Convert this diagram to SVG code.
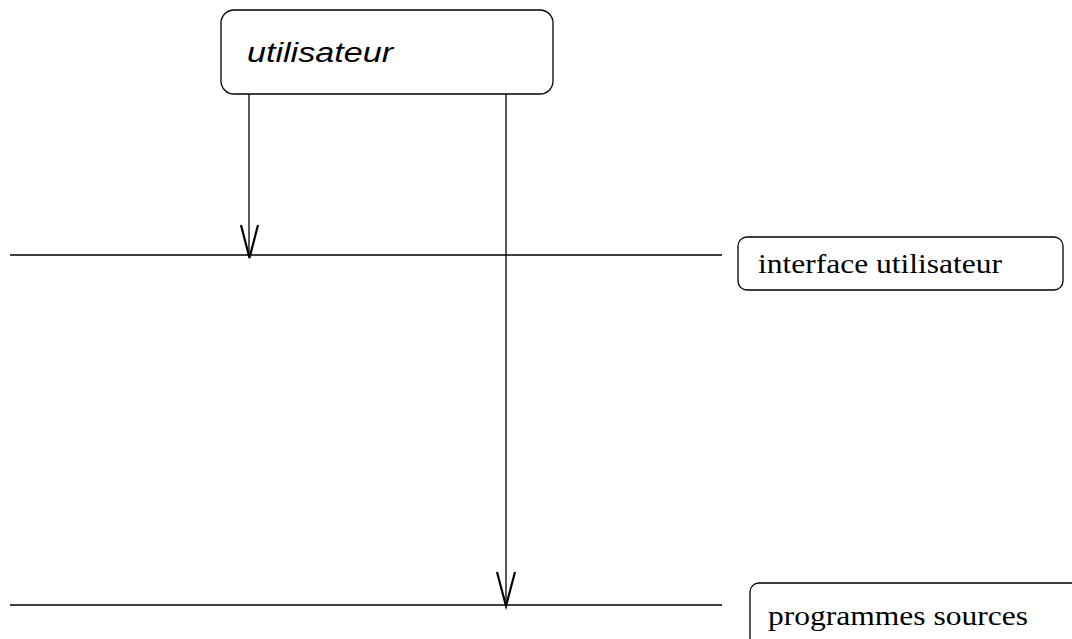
<svg xmlns="http://www.w3.org/2000/svg" width="1072" height="639" viewBox="0 0 1072 639">
<style>
.box{fill:#fff;stroke:#000;stroke-width:1.3}
.ln{stroke:#000;stroke-width:1.3;fill:none}
.ah{stroke:#000;stroke-width:2.2;fill:none}
.serif{font-family:"Liberation Serif","Times New Roman",serif;font-size:27px;fill:#000}
.sans{font-family:"Liberation Sans",Arial,sans-serif;font-size:27px;font-style:italic;fill:#000}
</style>
<rect width="1072" height="639" fill="#fff"/>
<g id="connectors">
<line class="ln" x1="10" y1="255" x2="722" y2="255"/>
<line class="ln" x1="10" y1="605" x2="722" y2="605"/>
<line class="ln" x1="249" y1="94" x2="249" y2="256"/>
<polyline class="ah" points="241,225 249.5,258 258,225"/>
<line class="ln" x1="506" y1="94" x2="506" y2="605"/>
<polyline class="ah" points="497,572 506,606 515,572"/>
</g>
<g id="utilisateur">
<rect class="box" x="221" y="10" width="332" height="84" rx="13"/>
<text class="sans" x="247" y="62" textLength="146" lengthAdjust="spacingAndGlyphs">utilisateur</text>
</g>
<g id="interface">
<rect class="box" x="738" y="237" width="325" height="53" rx="9"/>
<text class="serif" x="758" y="273" textLength="244" lengthAdjust="spacingAndGlyphs">interface utilisateur</text>
</g>
<g id="programmes">
<rect class="box" x="750" y="583" width="340" height="80" rx="9"/>
<text class="serif" x="768" y="625" textLength="260" lengthAdjust="spacingAndGlyphs">programmes sources</text>
</g>
</svg>
